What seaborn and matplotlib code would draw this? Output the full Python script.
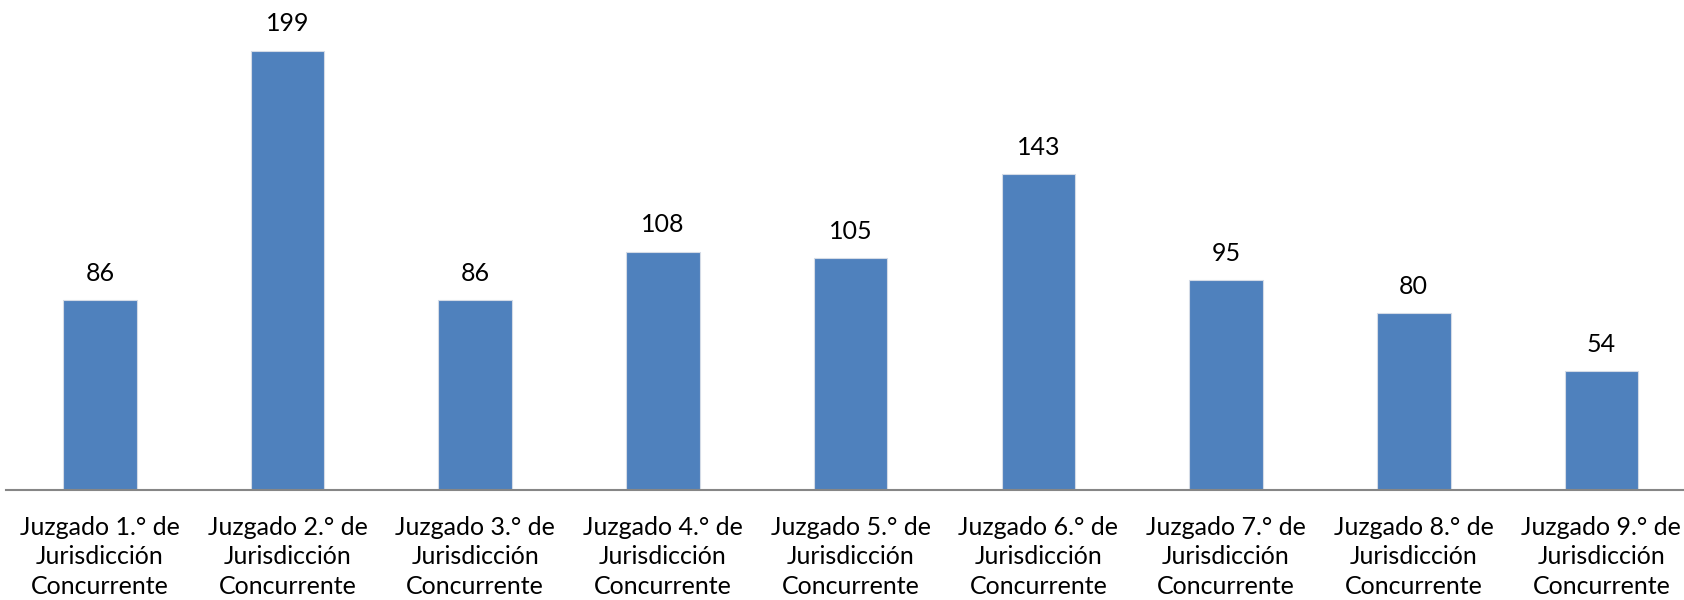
import matplotlib
matplotlib.use("Agg")
import matplotlib.pyplot as plt
import seaborn as sns

# data
juzgados = [f"Juzgado {i}.° de\nJurisdicción\nConcurrente" for i in range(1, 10)]
asuntos = [86, 199, 86, 108, 105, 143, 95, 80, 54]

sns.set_theme(style="white")
plt.rcParams['font.family'] = ['Lato', 'DejaVu Sans']

fig = plt.figure(figsize=(16.84, 6), dpi=100)
ax = fig.add_axes([6 / 1684, 110 / 600, 1 - 6 / 1684, 490 / 600])

sns.barplot(x=juzgados, y=asuntos, color='#4F81BD', saturation=1,
            width=0.392, edgecolor='#d4dbe6', linewidth=0.8, ax=ax)

ax.bar_label(ax.containers[0], padding=11, fontsize=18, color='black')

# last category is cut off at the right edge, like the original
ax.set_xlim(-0.5, 8.44)
ax.set_ylim(0, 222)
ax.set_yticks([])
ax.set_ylabel('')
for side in ['top', 'right', 'left']:
    ax.spines[side].set_visible(False)
ax.spines['bottom'].set_color('#868686')
ax.spines['bottom'].set_linewidth(1.5)
ax.tick_params(axis='x', length=0, pad=19, labelsize=18, labelcolor='black')
for lbl in ax.get_xticklabels():
    lbl.set_linespacing(1.32)

fig.savefig('out.png', dpi=100)
plt.close(fig)
